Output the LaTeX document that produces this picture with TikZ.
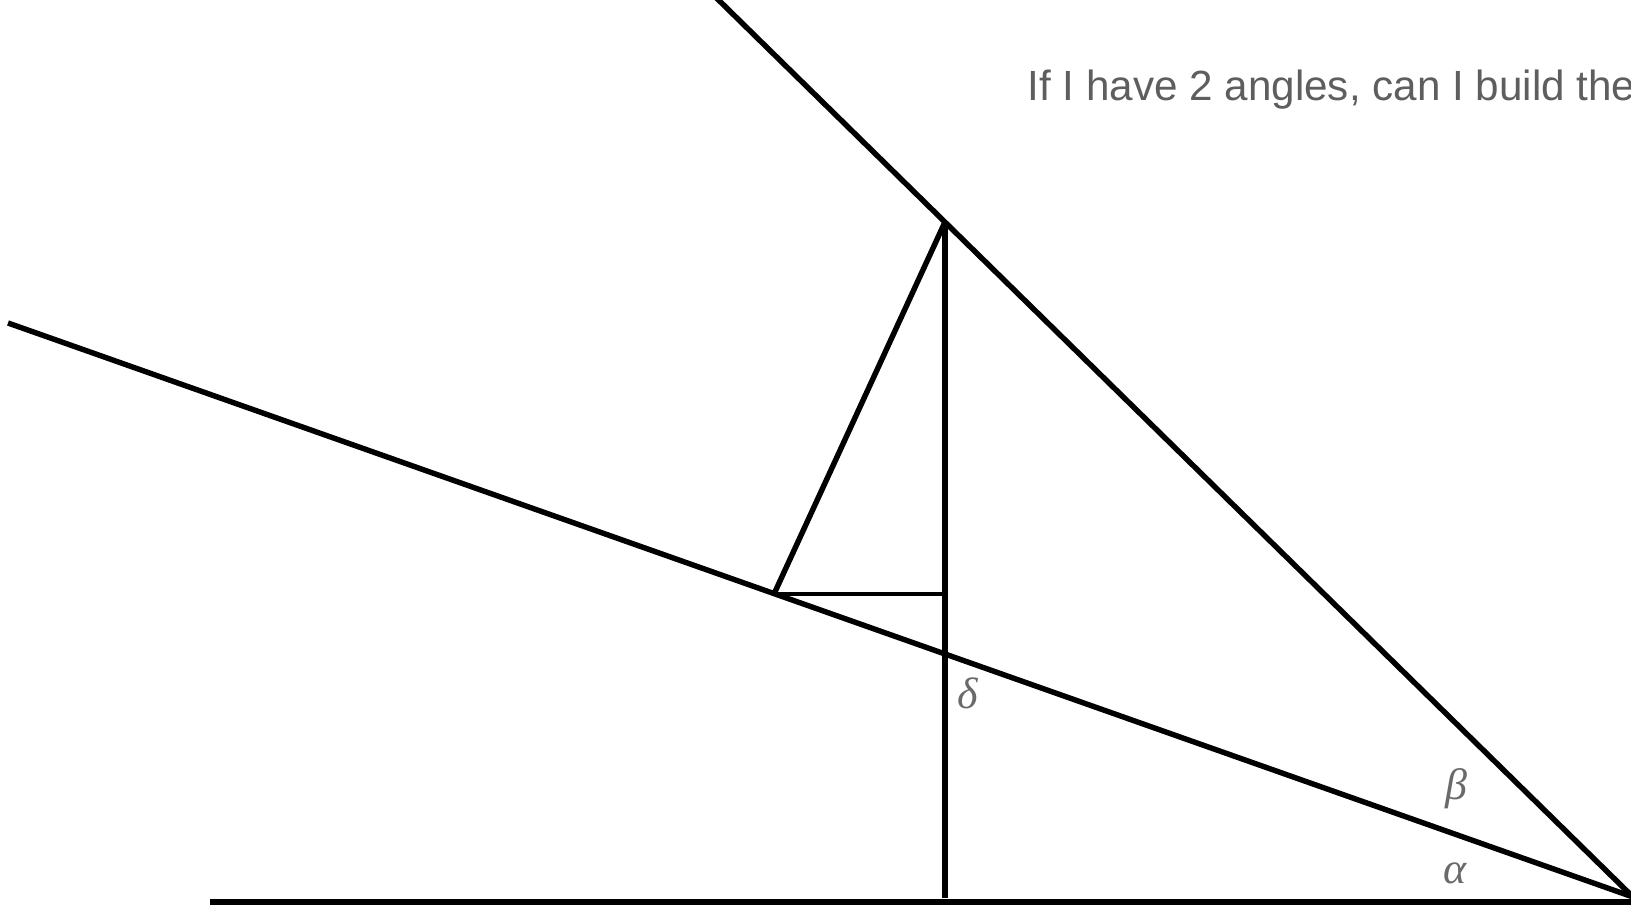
\documentclass[tikz,border=0pt]{standalone}
\usepackage{fontspec}
\setmainfont{Liberation Sans}
\newfontfamily\greekfont{Liberation Serif}
\definecolor{textgray}{HTML}{5E5E5E}
\definecolor{labelgray}{HTML}{6A6A6A}
\tikzset{
  ray/.style={line width=1.55pt, line cap=butt},
  anglelabel/.style={text=labelgray, font=\greekfont\itshape\fontsize{12.5}{14}\selectfont, inner sep=0pt}
}
\begin{document}
\begin{tikzpicture}
[x=0.01cm,y=-0.01cm]
\useasboundingbox (0,0) rectangle (1631,909);
\clip (0,0) rectangle (1631,909);
\coordinate (O) at (1633,897);
\coordinate (B) at (210,902);
\coordinate (E) at (1640,902);
\coordinate (L) at (8,323);
\coordinate (U) at (690,-28);
\coordinate (T) at (945,222);
\coordinate (A) at (774,594);
\coordinate (H) at (945,594);
\coordinate (F) at (945,898);
%\coordinate (X) at (945,654);
\draw [ray] (B) to (E);
\draw [ray] (L) to (O);
\draw [ray] (U) to (O);
\draw [ray] (T) to (F);
\draw [ray] (A) to (T);
\draw [line width=1.3pt] (A) to (H);
\node [anglelabel] (delta) at (968,693) {δ};
\node [anglelabel] (beta) at (1456,789) {β};
\node [anglelabel] (alpha) at (1455,873) {α};
\node [anchor=base west, inner sep=0pt, text=textgray, font=\fontsize{12}{14}\selectfont] (question) at (1027,100) {If I have 2 angles, can I build the};
\end{tikzpicture}
\end{document}
